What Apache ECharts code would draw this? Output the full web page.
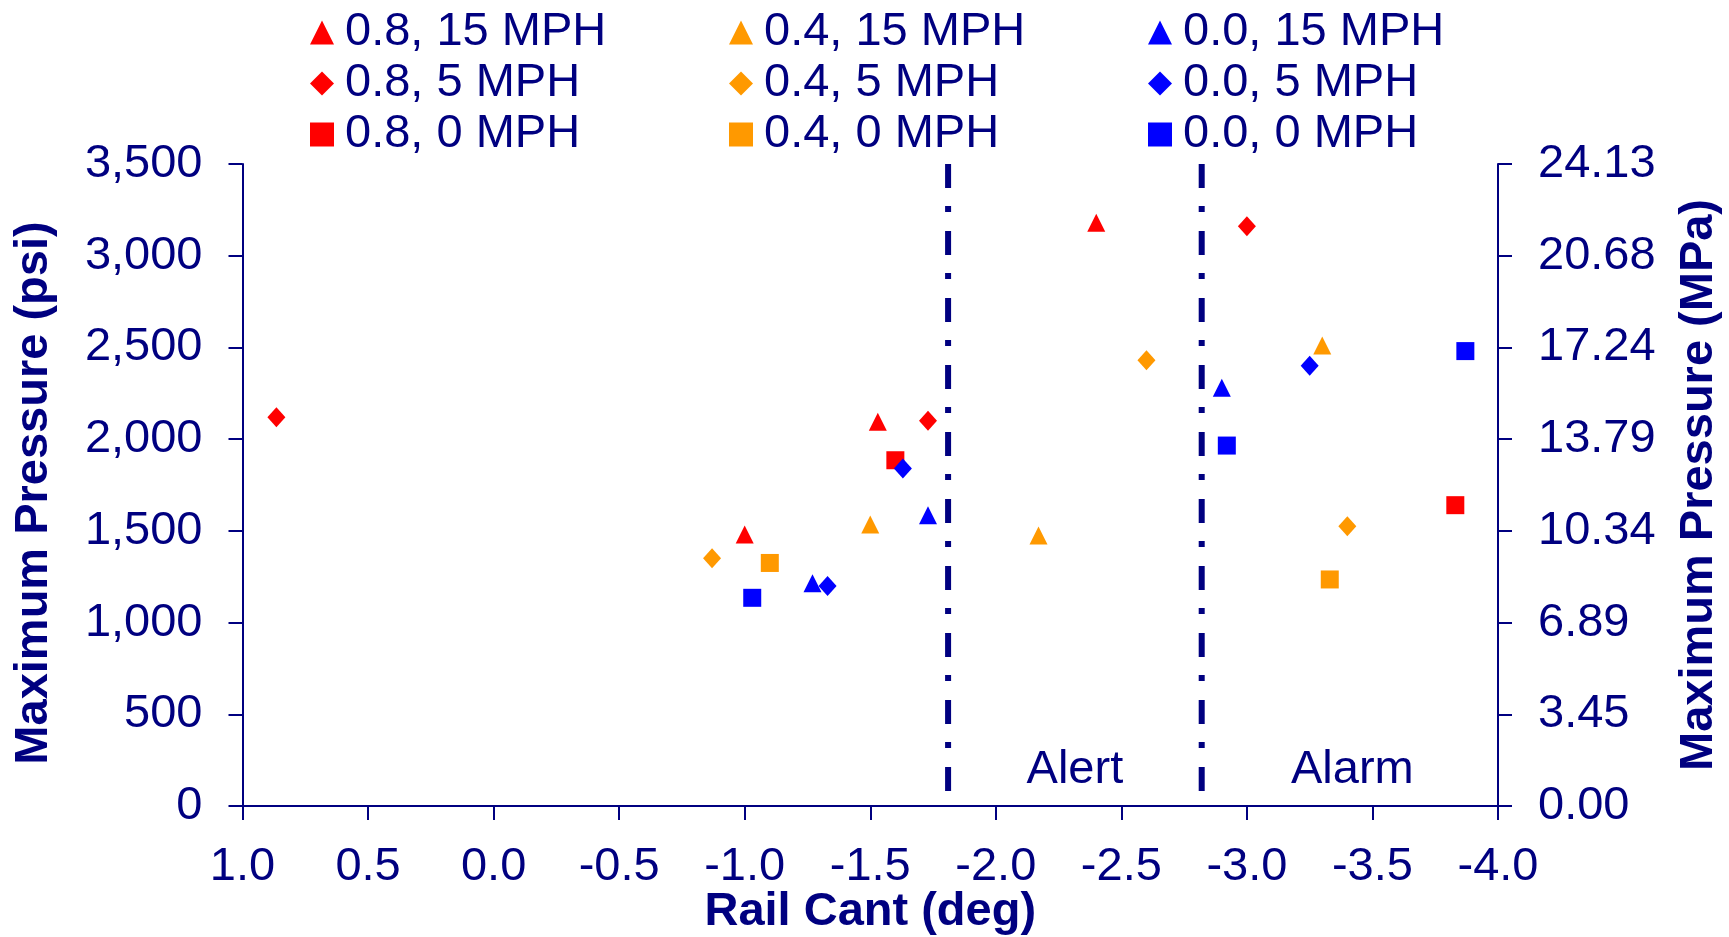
<!DOCTYPE html>
<html>
<head>
<meta charset="utf-8">
<title>Rail Cant vs Maximum Pressure</title>
<script src="https://cdn.jsdelivr.net/npm/echarts@6/dist/echarts.min.js"></script>
<style>
  html, body { margin: 0; padding: 0; background: #fff; }
  #chart { width: 1729px; height: 937px; }
</style>
</head>
<body>
<div id="chart"></div>
<script>
// rail cant (deg), max pressure (psi)
const tri08 = [[-1.0, 1480], [-1.53, 2095], [-2.40, 3180]];
const dia08 = [[0.865, 2120], [-1.73, 2100], [-3.0, 3160]];
const sq08 = [[-1.60, 1885], [-3.83, 1640]];
const tri04 = [[-1.5, 1535], [-2.17, 1475], [-3.30, 2510]];
const dia04 = [[-0.87, 1350], [-2.60, 2430], [-3.40, 1525]];
const sq04 = [[-1.1, 1325], [-3.33, 1235]];
const tri00 = [[-1.27, 1215], [-1.73, 1585], [-2.90, 2280]];
const dia00 = [[-1.33, 1200], [-1.63, 1840], [-3.25, 2400]];
const sq00 = [[-1.03, 1135], [-2.92, 1965], [-3.87, 2480]];

const psiLabels = ["0", "500", "1,000", "1,500", "2,000", "2,500", "3,000", "3,500"];
const mpaLabels = ["0.00", "3.45", "6.89", "10.34", "13.79", "17.24", "20.68", "24.13"];

// alert / alarm limits (deg)
const alertX = -1.81;
const alarmX = -2.82;
const zoneLabels = [["Alert", -2.315, 198], ["Alarm", -3.42, 198]];

const NAVY = "#000080";
const FONT = "'Liberation Sans', Arial, sans-serif";
const FS = 47;

function dots(name, data, symbol, color, size) {
  return {
    name: name,
    type: "scatter",
    data: data,
    symbol: symbol,
    symbolSize: size,
    itemStyle: { color: color, opacity: 1 },
    z: 5,
  };
}

function limit(x) {
  return {
    type: "line",
    data: [[x, 3500], [x, 0]],
    symbol: "none",
    silent: true,
    lineStyle: { color: NAVY, width: 6, type: [24, 18, 6, 19], cap: "butt" },
    z: 3,
  };
}

function legendCol(left, names) {
  return {
    orient: "vertical",
    left: left,
    top: 4,
    itemWidth: 24,
    itemHeight: 24,
    itemGap: 4,
    data: names,
    textStyle: {
      color: NAVY, fontSize: FS, fontFamily: FONT, lineHeight: 47,
      padding: [0, 0, 0, 6],
    },
  };
}

const chart = echarts.init(document.getElementById("chart"));
chart.setOption({
  animation: false,
  grid: { left: 242.5, right: 231, top: 164, bottom: 131, outerBoundsMode: "none" },
  legend: [
    legendCol(305, ["0.8, 15 MPH", "0.8, 5 MPH", "0.8, 0 MPH"]),
    legendCol(724, ["0.4, 15 MPH", "0.4, 5 MPH", "0.4, 0 MPH"]),
    legendCol(1143, ["0.0, 15 MPH", "0.0, 5 MPH", "0.0, 0 MPH"]),
  ],
  xAxis: {
    type: "value",
    inverse: true,
    min: -4,
    max: 1,
    interval: 0.5,
    name: "Rail Cant (deg)",
    nameLocation: "middle",
    nameGap: 83,
    nameMoveOverlap: false,
    nameTextStyle: { color: NAVY, fontSize: FS, fontWeight: "bold", fontFamily: FONT },
    axisLine: { onZero: false, lineStyle: { color: NAVY, width: 2 } },
    axisTick: { length: 14, lineStyle: { color: NAVY, width: 2 } },
    axisLabel: {
      color: NAVY, fontSize: FS, fontFamily: FONT, margin: 38,
      formatter: (v) => v.toFixed(1),
    },
    splitLine: { show: false },
  },
  yAxis: [
    {
      type: "value",
      min: 0,
      max: 3500,
      interval: 500,
      name: "Maximum Pressure (psi)",
      nameLocation: "middle",
      nameGap: 185,
      nameTextStyle: {
        color: NAVY, fontSize: FS, fontWeight: "bold", fontFamily: FONT,
        padding: [0, 16, 0, 0],
      },
      axisLine: { show: true, onZero: false, lineStyle: { color: NAVY, width: 2 } },
      axisTick: { length: 14, lineStyle: { color: NAVY, width: 2 } },
      axisLabel: {
        color: NAVY, fontSize: FS, fontFamily: FONT, margin: 40,
        formatter: (v) => psiLabels[Math.round(v / 500)],
      },
      splitLine: { show: false },
    },
    {
      type: "value",
      position: "right",
      min: 0,
      max: 3500,
      interval: 500,
      name: "Maximum Pressure (MPa)",
      nameLocation: "middle",
      nameGap: 178,
      nameTextStyle: { color: NAVY, fontSize: FS, fontWeight: "bold", fontFamily: FONT },
      axisLine: { show: true, onZero: false, lineStyle: { color: NAVY, width: 2 } },
      axisTick: { length: 14, lineStyle: { color: NAVY, width: 2 } },
      axisLabel: {
        color: NAVY, fontSize: FS, fontFamily: FONT, margin: 40,
        formatter: (v) => mpaLabels[Math.round(v / 500)],
      },
      splitLine: { show: false },
    },
  ],
  series: [
    dots("0.8, 15 MPH", tri08, "triangle", "#ff0000", [18, 18]),
    dots("0.8, 5 MPH", dia08, "diamond", "#ff0000", [18, 20]),
    dots("0.8, 0 MPH", sq08, "rect", "#ff0000", [18, 18]),
    dots("0.4, 15 MPH", tri04, "triangle", "#ff9900", [18, 18]),
    dots("0.4, 5 MPH", dia04, "diamond", "#ff9900", [18, 20]),
    dots("0.4, 0 MPH", sq04, "rect", "#ff9900", [18, 18]),
    dots("0.0, 15 MPH", tri00, "triangle", "#0000ff", [18, 18]),
    dots("0.0, 5 MPH", dia00, "diamond", "#0000ff", [18, 20]),
    dots("0.0, 0 MPH", sq00, "rect", "#0000ff", [18, 18]),
    limit(alertX),
    limit(alarmX),
    {
      type: "scatter",
      silent: true,
      symbolSize: 1,
      itemStyle: { color: "rgba(0,0,0,0)", opacity: 1 },
      data: zoneLabels.map((d) => ({ value: [d[1], d[2]], name: d[0] })),
      label: {
        show: true,
        position: "inside",
        formatter: (p) => p.name,
        color: NAVY,
        opacity: 1,
        fontSize: FS,
        fontFamily: FONT,
      },
    },
  ],
});
</script>
</body>
</html>
